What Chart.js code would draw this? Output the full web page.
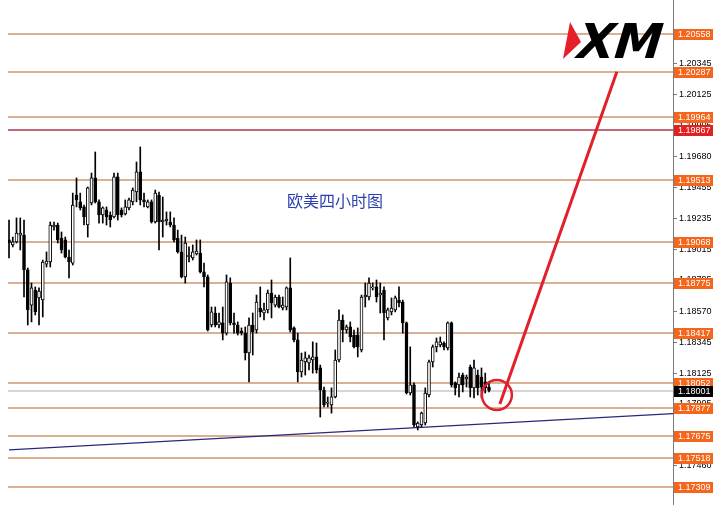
<!DOCTYPE html>
<html>
<head>
<meta charset="utf-8">
<script src="https://cdn.jsdelivr.net/npm/chart.js@4.4.0/dist/chart.umd.min.js"></script>
<style>
  html, body { margin: 0; padding: 0; background: #fff; }
  #wrap { width: 724px; height: 505px; }
</style>
</head>
<body>
<div id="wrap"><canvas id="chart" width="724" height="505"></canvas></div>
<script>
// EUR/USD 4H candles (oldest first)
const opens = [
  1.19081, 1.19045, 1.19067, 1.19116, 1.19116, 1.18866, 1.18614, 1.18722, 1.18665, 1.18650,
  1.18908, 1.18923, 1.19174, 1.19188, 1.19095, 1.19081, 1.18959, 1.18915, 1.19403, 1.19354,
  1.19318, 1.19188, 1.19346, 1.19526, 1.19354, 1.19260, 1.19296, 1.19260, 1.19246, 1.19533,
  1.19296, 1.19267, 1.19311, 1.19354, 1.19425, 1.19569, 1.19368, 1.19318, 1.19354, 1.19210,
  1.19403, 1.19210, 1.19217, 1.19210, 1.19188, 1.19095, 1.18995, 1.18816, 1.18959, 1.18952,
  1.18980, 1.18987, 1.18852, 1.18816, 1.18471, 1.18557, 1.18471, 1.18486, 1.18413, 1.18772,
  1.18486, 1.18471, 1.18428, 1.18413, 1.18270, 1.18471, 1.18435, 1.18593, 1.18557, 1.18579,
  1.18700, 1.18614, 1.18672, 1.18593, 1.18600, 1.18737, 1.18450, 1.18364, 1.18134, 1.18206,
  1.18199, 1.18220, 1.18242, 1.18163, 1.18005, 1.17911, 1.17897, 1.17955, 1.18220, 1.18507,
  1.18435, 1.18457, 1.18399, 1.18399, 1.18292, 1.18672, 1.18672, 1.18737, 1.18744, 1.18686,
  1.18722, 1.18522, 1.18565, 1.18579, 1.18650, 1.18636, 1.18486, 1.17983, 1.18041, 1.17740,
  1.17754, 1.17768, 1.17969, 1.18206, 1.18314, 1.18328, 1.18342, 1.18306, 1.18486, 1.18056,
  1.18041, 1.18112, 1.18084, 1.18170, 1.18020, 1.18112, 1.18098, 1.18063, 1.18026
];
const highs = [
  1.19224, 1.19102, 1.19239, 1.19239, 1.19224, 1.18880, 1.18772, 1.18744, 1.18737, 1.18937,
  1.18995, 1.19210, 1.19210, 1.19202, 1.19138, 1.19102, 1.19009, 1.19417, 1.19526, 1.19417,
  1.19332, 1.19461, 1.19561, 1.19712, 1.19368, 1.19318, 1.19318, 1.19282, 1.19561, 1.19561,
  1.19311, 1.19368, 1.19382, 1.19454, 1.19640, 1.19748, 1.19417, 1.19368, 1.19368, 1.19439,
  1.19425, 1.19389, 1.19282, 1.19282, 1.19239, 1.19152, 1.19116, 1.19102, 1.19031, 1.19045,
  1.19081, 1.19081, 1.18915, 1.18830, 1.18600, 1.18600, 1.18557, 1.18600, 1.18830, 1.18809,
  1.18557, 1.18493, 1.18450, 1.18457, 1.18522, 1.18557, 1.18686, 1.18744, 1.18629, 1.18722,
  1.18794, 1.18686, 1.18686, 1.18672, 1.18744, 1.18952, 1.18457, 1.18413, 1.18270, 1.18278,
  1.18256, 1.18350, 1.18342, 1.18184, 1.18026, 1.17955, 1.18020, 1.18292, 1.18579, 1.18543,
  1.18471, 1.18493, 1.18435, 1.18450, 1.18686, 1.18772, 1.18809, 1.18772, 1.18794, 1.18772,
  1.18744, 1.18593, 1.18665, 1.18679, 1.18744, 1.18650, 1.18493, 1.18314, 1.18056, 1.17776,
  1.17847, 1.18020, 1.18220, 1.18328, 1.18378, 1.18385, 1.18350, 1.18493, 1.18493, 1.18063,
  1.18126, 1.18126, 1.18112, 1.18184, 1.18220, 1.18148, 1.18163, 1.18126, 1.18063
];
const lows = [
  1.18952, 1.19031, 1.19059, 1.19009, 1.18672, 1.18471, 1.18493, 1.18543, 1.18471, 1.18529,
  1.18887, 1.18887, 1.19152, 1.19059, 1.18987, 1.18952, 1.18809, 1.18901, 1.19318, 1.19296,
  1.19188, 1.19102, 1.19332, 1.19346, 1.19202, 1.19202, 1.19188, 1.19174, 1.19239, 1.19224,
  1.19246, 1.19260, 1.19296, 1.19332, 1.19354, 1.19332, 1.19318, 1.19311, 1.19202, 1.19202,
  1.19009, 1.19102, 1.19188, 1.19174, 1.19067, 1.18987, 1.18809, 1.18772, 1.18923, 1.18937,
  1.18973, 1.18844, 1.18744, 1.18428, 1.18457, 1.18457, 1.18450, 1.18364, 1.18399, 1.18471,
  1.18413, 1.18399, 1.18399, 1.18220, 1.18063, 1.18256, 1.18413, 1.18529, 1.18507, 1.18557,
  1.18522, 1.18600, 1.18593, 1.18579, 1.18579, 1.18421, 1.18350, 1.18063, 1.18098, 1.18112,
  1.18148, 1.18126, 1.18126, 1.17811, 1.17883, 1.17883, 1.17839, 1.17948, 1.18206, 1.18350,
  1.18413, 1.18350, 1.18306, 1.18242, 1.18278, 1.18600, 1.18650, 1.18722, 1.18636, 1.18557,
  1.18364, 1.18507, 1.18543, 1.18565, 1.18600, 1.18413, 1.17976, 1.17969, 1.17740, 1.17718,
  1.17740, 1.17754, 1.17955, 1.18170, 1.18278, 1.18314, 1.18292, 1.18292, 1.18026, 1.17969,
  1.17955, 1.17991, 1.18026, 1.17955, 1.17948, 1.17969, 1.17948, 1.17983, 1.17991
];
const closes = [
  1.19059, 1.19067, 1.19130, 1.19130, 1.18866, 1.18579, 1.18737, 1.18565, 1.18715, 1.18923,
  1.18930, 1.19188, 1.19188, 1.19081, 1.19009, 1.18959, 1.18923, 1.19332, 1.19368, 1.19311,
  1.19246, 1.19454, 1.19526, 1.19354, 1.19260, 1.19311, 1.19246, 1.19224, 1.19533, 1.19260,
  1.19260, 1.19318, 1.19368, 1.19439, 1.19569, 1.19368, 1.19354, 1.19354, 1.19210, 1.19417,
  1.19210, 1.19224, 1.19231, 1.19188, 1.19081, 1.18995, 1.18816, 1.19059, 1.18973, 1.18995,
  1.19002, 1.18852, 1.18816, 1.18435, 1.18565, 1.18471, 1.18493, 1.18413, 1.18780, 1.18486,
  1.18471, 1.18413, 1.18413, 1.18270, 1.18471, 1.18421, 1.18636, 1.18565, 1.18579, 1.18700,
  1.18629, 1.18672, 1.18600, 1.18614, 1.18737, 1.18435, 1.18364, 1.18134, 1.18220, 1.18235,
  1.18235, 1.18242, 1.18148, 1.18005, 1.17897, 1.17919, 1.17955, 1.18220, 1.18507, 1.18435,
  1.18457, 1.18385, 1.18314, 1.18314, 1.18672, 1.18686, 1.18772, 1.18744, 1.18672, 1.18700,
  1.18557, 1.18579, 1.18593, 1.18665, 1.18629, 1.18486, 1.17983, 1.18041, 1.17754, 1.17768,
  1.17839, 1.17983, 1.18206, 1.18314, 1.18350, 1.18350, 1.18314, 1.18486, 1.18041, 1.18020,
  1.18098, 1.18041, 1.18098, 1.18020, 1.18163, 1.18020, 1.18026, 1.18020, 1.18001
];

// horizontal price levels with their right-side labels
const levels = [1.20558, 1.20287, 1.19964, 1.19867, 1.19513, 1.19068, 1.18775,
                1.18417, 1.18052, 1.18001, 1.17877, 1.17675, 1.17518, 1.17309];
const redLevel = 1.19867;
const lastPrice = 1.18001;

// right axis ticks
const tickValues = [1.20345, 1.20125, 1.19905, 1.19680, 1.19455, 1.19235, 1.19015,
                    1.18795, 1.18570, 1.18345, 1.18125, 1.17905, 1.17680, 1.17460];

// support trendline [bar index, price] and the projected move
const trendStart = [0, 1.17575];
const trendEnd = [177.07, 1.17835];
const arrowFrom = [130.9, 1.17905];
const arrowTo = [162.1, 1.20287];
const circleAt = [130.1, 1.17969];
const titleAt = [86.9, 1.19361];
const title = '欧美四小时图';

const idx = opens.map((_, i) => i);

const overlay = {
  id: 'overlay',
  beforeDatasetsDraw(chart) {
    const { ctx, chartArea: a, scales: { x, y } } = chart;
    ctx.save();
    levels.forEach(v => {
      const py = Math.round(y.getPixelForValue(v));
      if (v === lastPrice) { ctx.strokeStyle = '#d6d6d6'; ctx.lineWidth = 2; }
      else if (v === redLevel) { ctx.strokeStyle = '#b3344a'; ctx.lineWidth = 1.5; }
      else { ctx.strokeStyle = '#cc9670'; ctx.lineWidth = 1.5; }
      ctx.beginPath();
      ctx.moveTo(a.left, py);
      ctx.lineTo(a.right, py);
      ctx.stroke();
    });
    ctx.strokeStyle = '#27297c';
    ctx.lineWidth = 1.2;
    ctx.beginPath();
    ctx.moveTo(x.getPixelForValue(trendStart[0]), y.getPixelForValue(trendStart[1]));
    ctx.lineTo(x.getPixelForValue(trendEnd[0]), y.getPixelForValue(trendEnd[1]));
    ctx.stroke();
    ctx.restore();
  },
  afterDatasetsDraw(chart) {
    const { ctx, scales: { x, y } } = chart;
    ctx.save();
    // projected move
    ctx.strokeStyle = '#e0202a';
    ctx.lineWidth = 3;
    ctx.beginPath();
    ctx.moveTo(x.getPixelForValue(arrowFrom[0]), y.getPixelForValue(arrowFrom[1]));
    ctx.lineTo(x.getPixelForValue(arrowTo[0]), y.getPixelForValue(arrowTo[1]));
    ctx.stroke();
    ctx.lineWidth = 2.5;
    ctx.beginPath();
    ctx.arc(x.getPixelForValue(circleAt[0]), y.getPixelForValue(circleAt[1]), 15, 0, Math.PI * 2);
    ctx.stroke();

    // title
    ctx.fillStyle = '#2d3fae';
    ctx.font = '16px "Noto Sans CJK SC"';
    ctx.textAlign = 'center';
    ctx.textBaseline = 'middle';
    ctx.fillText(title, x.getPixelForValue(titleAt[0]), y.getPixelForValue(titleAt[1]));

    // XM logo
    ctx.fillStyle = '#e5202a';
    ctx.beginPath();
    ctx.moveTo(570, 22);
    ctx.lineTo(581, 42);
    ctx.lineTo(563, 59);
    ctx.closePath();
    ctx.fill();
    ctx.fillStyle = '#000';
    ctx.font = 'bold 48px "DejaVu Sans"';
    ctx.textAlign = 'left';
    ctx.textBaseline = 'alphabetic';
    ctx.setTransform(1, 0, -0.3, 1, 0, 0);
    ctx.fillText('XM', 573 + 0.3 * 58, 58);
    ctx.setTransform(1, 0, 0, 1, 0, 0);
    ctx.restore();
  },
  afterDraw(chart) {
    const { ctx, chartArea: a, scales: { y } } = chart;
    ctx.save();
    ctx.font = '9px "Liberation Sans"';
    ctx.textBaseline = 'middle';
    ctx.textAlign = 'left';
    levels.forEach(v => {
      const py = Math.round(y.getPixelForValue(v));
      ctx.fillStyle = v === lastPrice ? '#000' : v === redLevel ? '#e3201f' : '#f4661b';
      ctx.fillRect(a.right + 1, py - 5, 39, 11);
      ctx.fillStyle = '#fff';
      ctx.fillText(v.toFixed(5), a.right + 5, py + 0.5);
    });
    ctx.restore();
  }
};

new Chart(document.getElementById('chart'), {
  type: 'bar',
  data: {
    datasets: [
      {
        label: 'body',
        data: idx.map(i => ({ x: i, y: [opens[i], closes[i]] })),
        backgroundColor: idx.map(i => closes[i] >= opens[i] ? '#ffffff' : '#000000'),
        borderColor: '#000',
        borderWidth: 1,
        borderSkipped: false,
        barThickness: 3,
        grouped: false
      },
      {
        label: 'wick',
        data: idx.map(i => ({ x: i, y: [lows[i], highs[i]] })),
        backgroundColor: '#000',
        barThickness: 1,
        grouped: false
      }
    ]
  },
  options: {
    responsive: false,
    animation: false,
    devicePixelRatio: 1,
    layout: { padding: { left: 8, right: 0, top: 0, bottom: 0 } },
    plugins: { legend: { display: false }, tooltip: { enabled: false } },
    scales: {
      x: { type: 'linear', display: false, offset: false, min: -0.27, max: 177.07 },
      y: {
        position: 'right',
        min: 1.17180,
        max: 1.20802,
        afterFit(s) { s.width = 51; s.paddingTop = 0; s.paddingBottom = 0; },
        afterBuildTicks(s) { s.ticks = tickValues.map(v => ({ value: v })); },
        ticks: {
          autoSkip: false,
          padding: 2,
          color: '#000',
          font: { family: 'Liberation Sans', size: 9 },
          callback: v => v.toFixed(5)
        },
        grid: { drawOnChartArea: false, drawTicks: true, tickLength: 4, color: '#777' },
        border: { display: true, color: '#7a7a7a', width: 1 }
      }
    }
  },
  plugins: [overlay]
});
</script>
</body>
</html>
